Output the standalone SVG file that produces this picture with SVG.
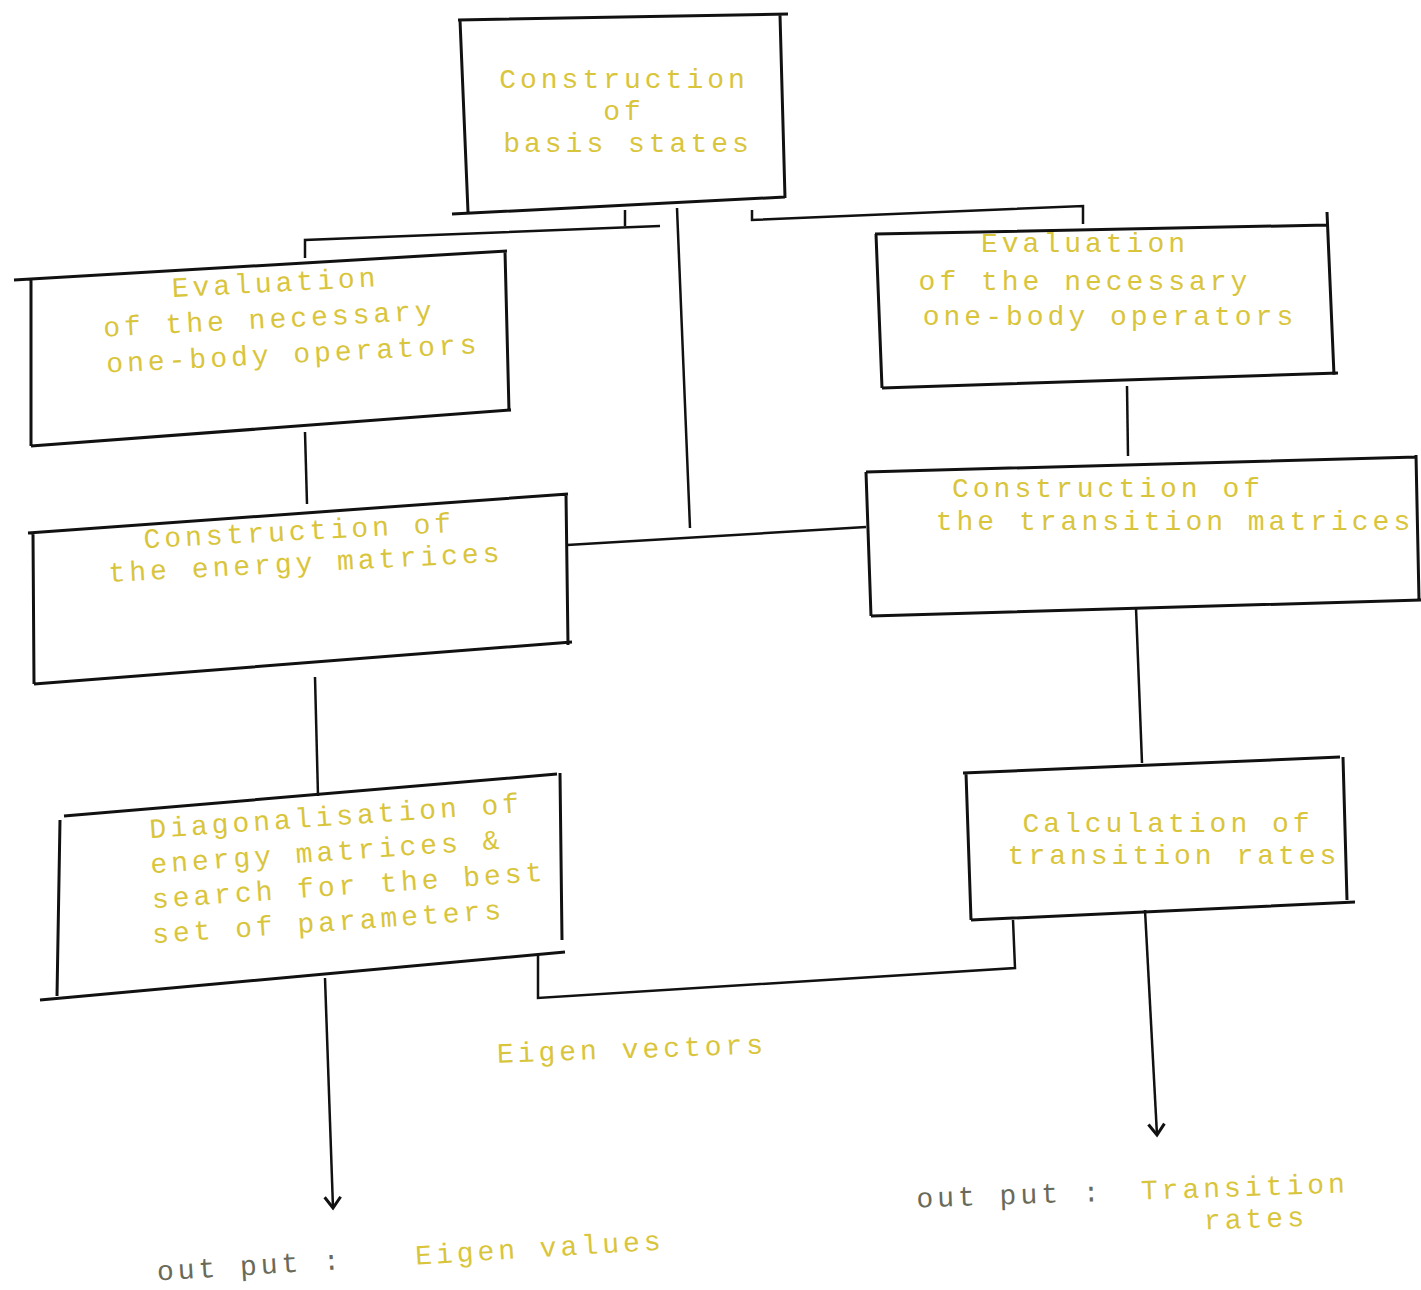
<svg xmlns="http://www.w3.org/2000/svg" width="1421" height="1290" viewBox="0 0 1421 1290">
<style>
.box{fill:none;stroke:#111;stroke-width:3;stroke-linejoin:miter}
.ln{fill:none;stroke:#111;stroke-width:2.5}
.t{font-family:"Liberation Mono","DejaVu Sans Mono",monospace;font-size:28px;letter-spacing:4px;fill:#d9c53c;text-anchor:middle}
.d{fill:#6a6a5a}
</style>
<defs>
<marker id="ah" markerWidth="20" markerHeight="20" refX="17" refY="10" orient="auto" markerUnits="userSpaceOnUse" viewBox="0 0 20 20">
<path d="M6,2 L17,10 L6,18" fill="none" stroke="#111" stroke-width="3"/>
</marker>
</defs>
<rect width="1421" height="1290" fill="#fff"/>

<g id="n1">
<path class="box" d="M458,20 L788,14 M460,20 L468,212 M780,15 L785,198 M452,214 L785,197"/>
<text class="t" x="624" y="88">Construction</text>
<text class="t" x="624" y="120">of</text>
<text class="t" x="628" y="152">basis states</text>
</g>

<g id="n2">
<path class="box" d="M14,280 L507,251 M31,280 L31,446 M505,251 L509,411 M31,446 L511,410"/>
<g transform="rotate(-3 270 330)">
<text class="t" x="278" y="292">Evaluation</text>
<text class="t" x="270" y="328">of the necessary</text>
<text class="t" x="292" y="364">one-body operators</text>
</g>
</g>

<g id="n3">
<path class="box" d="M875,234 L1328,225 M876,234 L882,388 M1327,212 L1334,375 M882,388 L1338,373"/>
<text class="t" x="1085" y="252">Evaluation</text>
<text class="t" x="1085" y="290">of the necessary</text>
<text class="t" x="1110" y="325">one-body operators</text>
</g>

<g id="n4">
<path class="box" d="M28,533 L568,494 M33,533 L34,684 M566,494 L568,645 M34,684 L572,642"/>
<g transform="rotate(-3 300 545)">
<text class="t" x="300" y="540">Construction of</text>
<text class="t" x="305" y="572">the energy matrices</text>
</g>
</g>

<g id="n5">
<path class="box" d="M866,472 L1417,457 M866,472 L871,616 M1416,455 L1419,600 M871,616 L1421,600"/>
<text class="t" x="1108" y="497">Construction of</text>
<text class="t" x="1175" y="530">the transition matrices</text>
</g>

<g id="n6">
<path class="box" d="M64,816 L557,774 M60,820 L57,996 M560,773 L562,940 M40,1000 L565,952"/>
<g transform="rotate(-4 340 870)">
<text class="t" x="340" y="825">Diagonalisation of</text>
<text class="t" x="328" y="860">energy matrices &amp;</text>
<text class="t" x="348" y="895">search for the best</text>
<text class="t" x="325" y="930">set of parameters</text>
</g>
</g>

<g id="n7">
<path class="box" d="M963,773 L1340,757 M966,773 L971,920 M1343,757 L1347,900 M971,920 L1355,902"/>
<text class="t" x="1168" y="832">Calculation of</text>
<text class="t" x="1174" y="864">transition rates</text>
</g>

<g id="connectors">
<path class="ln" d="M305,258 L305,240 L660,226"/>
<path class="ln" d="M625,210 L625,226"/>
<path class="ln" d="M752,210 L752,220 L1083,206 L1083,224"/>
<path class="ln" d="M677,208 L690,528"/>
<path class="ln" d="M305,432 L307,504"/>
<path class="ln" d="M567,545 L866,527"/>
<path class="ln" d="M1127,386 L1128,456"/>
<path class="ln" d="M1136,608 L1142,763"/>
<path class="ln" d="M315,677 L318,796"/>
<path class="ln" d="M325,978 L333,1208" marker-end="url(#ah)"/>
<path class="ln" d="M1145,910 L1157,1135" marker-end="url(#ah)"/>
<path class="ln" d="M538,955 L538,998 L1015,968 L1013,920"/>
</g>

<g id="labels">
<text class="t" x="632" y="1058" transform="rotate(-2 632 1050)">Eigen vectors</text>
<g transform="rotate(-3.5 410 1255)">
<text class="t d" x="250" y="1265">out put :</text>
<text class="t" x="540" y="1265">Eigen values</text>
</g>
<g transform="rotate(-2 1130 1195)">
<text class="t d" x="1010" y="1200">out put :</text>
<text class="t" x="1245" y="1200">Transition</text>
<text class="t" x="1255" y="1232">rates</text>
</g>
</g>
</svg>
